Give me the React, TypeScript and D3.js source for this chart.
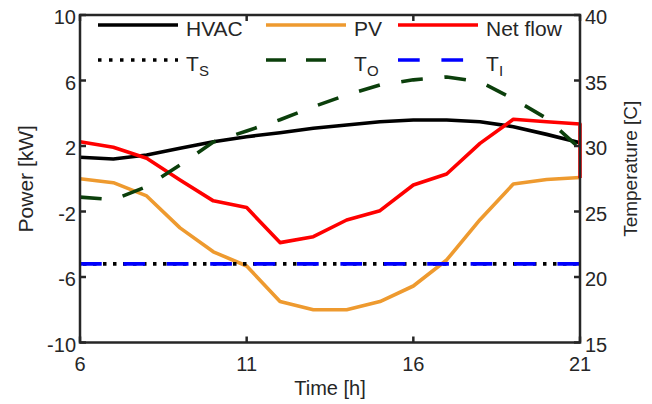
import React from 'react';
import * as d3 from 'd3';

const hours = [6, 7, 8, 9, 10, 11, 12, 13, 14, 15, 16, 17, 18, 19, 20, 21];
const hvac = [1.31, 1.21, 1.45, 1.86, 2.26, 2.57, 2.81, 3.08, 3.28, 3.48, 3.59, 3.59, 3.48, 3.18, 2.71, 2.2];
const pv = [0.0, -0.24, -1.05, -3.0, -4.46, -5.33, -7.5, -8.0, -8.0, -7.5, -6.55, -4.96, -2.5, -0.32, -0.05, 0.08];
const netHours = [6, 7, 8, 9, 10, 11, 12, 13, 14, 15, 16, 17, 18, 19, 20, 21, 21];
const netFlow = [2.26, 1.92, 1.25, -0.08, -1.35, -1.76, -3.9, -3.54, -2.52, -1.95, -0.38, 0.29, 2.16, 3.63, 3.48, 3.34, 0.05];
const tS = [21, 21, 21, 21, 21, 21, 21, 21, 21, 21, 21, 21, 21, 21, 21, 21];
const tO = [26.1, 25.9, 26.9, 28.55, 30.3, 31.15, 32.0, 33.0, 33.9, 34.66, 35.05, 35.27, 34.9, 33.6, 32.1, 29.8];
const tI = [21, 21, 21, 21, 21, 21, 21, 21, 21, 21, 21, 21, 21, 21, 21, 21];

const xTicks = [6, 11, 16, 21];
const yLeftTicks = [-10, -6, -2, 2, 6, 10];
const yRightTicks = [15, 20, 25, 30, 35, 40];

const FONT = '"Liberation Sans", Arial, Helvetica, sans-serif';
const AX = '#262626';

export default function App() {
  const W = 652, H = 404;
  const L = 80, R = 580, T = 15, B = 342.5;
  const x = d3.scaleLinear().domain([6, 21]).range([L, R]);
  const yL = d3.scaleLinear().domain([-10, 10]).range([B, T]);
  const yR = d3.scaleLinear().domain([15, 40]).range([B, T]);

  const mk = (xs: number[], ys: number[], ys2: d3.ScaleLinear<number, number>) =>
    d3.line<number>().x((_, i) => x(xs[i])).y((d) => ys2(d))(ys) || '';

  const series = [
    { d: mk(hours, hvac, yL), color: '#000000', dash: undefined as string | undefined, off: 0 },
    { d: mk(hours, pv, yL), color: '#EE9A2F', dash: undefined, off: 0 },
    { d: mk(netHours, netFlow, yL), color: '#FF0000', dash: undefined, off: 0 },
    { d: mk(hours, tS, yR), color: '#000000', dash: '3.5,6.5', off: -3 },
    { d: mk(hours, tO, yR), color: '#0B3F0B', dash: '21.7,21.7', off: 0 },
    { d: mk(hours, tI, yR), color: '#0000FF', dash: '21.7,21.7', off: 0 },
  ];

  const legend = [
    { label: 'HVAC', sub: '', color: '#000000', dash: undefined as string | undefined, off: 0, col: 0, row: 0 },
    { label: 'PV', sub: '', color: '#EE9A2F', dash: undefined, off: 0, col: 1, row: 0 },
    { label: 'Net flow', sub: '', color: '#FF0000', dash: undefined, off: 0, col: 2, row: 0 },
    { label: 'T', sub: 'S', color: '#000000', dash: '3.5,7.5', off: 0, col: 0, row: 1 },
    { label: 'T', sub: 'O', color: '#0B3F0B', dash: '20,20', off: 0, col: 1, row: 1 },
    { label: 'T', sub: 'I', color: '#0000FF', dash: '21.7,21.7', off: 0, col: 2, row: 1 },
  ];
  const colX = [98, 266, 398];
  const rowY = [25, 60];
  const lineLen = 80;

  return (
    <svg width={W} height={H} style={{ position: 'absolute', left: 0, top: 0, background: '#fff' }} fontFamily={FONT}>
      <rect x={0} y={0} width={W} height={H} fill="#fff" />
      <g>
        {series.map((s, i) => (
          <path key={i} d={s.d} fill="none" stroke={s.color} strokeWidth={3.6}
            strokeDasharray={s.dash} strokeDashoffset={s.off} strokeLinejoin="round" />
        ))}
      </g>
      {/* legend */}
      <g>
        {legend.map((lg, i) => {
          const lx = colX[lg.col];
          const ly = rowY[lg.row];
          return (
            <g key={i}>
              <line x1={lx} x2={lx + lineLen} y1={ly} y2={ly} stroke={lg.color} strokeWidth={3.6}
                strokeDasharray={lg.dash} strokeDashoffset={lg.off} />
              <text x={lx + 88} y={ly + 10.5} fontSize={21} fill={AX}>{lg.label}</text>
              {lg.sub && <text x={lx + 101} y={ly + 15.5} fontSize={15} fill={AX}>{lg.sub}</text>}
            </g>
          );
        })}
      </g>
      {/* axes box */}
      <rect x={L} y={T} width={R - L} height={B - T} fill="none" stroke={AX} strokeWidth={2.5} />
      {xTicks.map((t) => (
        <g key={'x' + t}>
          <line x1={x(t)} x2={x(t)} y1={B} y2={B - 6} stroke={AX} strokeWidth={2.5} />
          <line x1={x(t)} x2={x(t)} y1={T} y2={T + 6} stroke={AX} strokeWidth={2.5} />
          <text x={x(t)} y={B + 28} fontSize={20} textAnchor="middle" fill={AX}>{t}</text>
        </g>
      ))}
      {yLeftTicks.map((t) => (
        <g key={'yl' + t}>
          <line x1={L} x2={L + 6} y1={yL(t)} y2={yL(t)} stroke={AX} strokeWidth={2.5} />
          <text x={L - 4} y={yL(t) + 9} fontSize={20} textAnchor="end" fill={AX}>{t}</text>
        </g>
      ))}
      {yRightTicks.map((t) => (
        <g key={'yr' + t}>
          <line x1={R} x2={R - 6} y1={yR(t)} y2={yR(t)} stroke={AX} strokeWidth={2.5} />
          <text x={R + 5} y={yR(t) + 9} fontSize={20} textAnchor="start" fill={AX}>{t}</text>
        </g>
      ))}
      <text x={(L + R) / 2} y={395} fontSize={20} textAnchor="middle" fill={AX}>Time [h]</text>
      <text transform={`translate(33,${(T + B) / 2}) rotate(-90)`} fontSize={21} textAnchor="middle" fill={AX}>Power [kW]</text>
      <text transform={`translate(637,${(T + B) / 2 - 10}) rotate(-90)`} fontSize={19} textAnchor="middle" fill={AX}>Temperature [C]</text>
    </svg>
  );
}
